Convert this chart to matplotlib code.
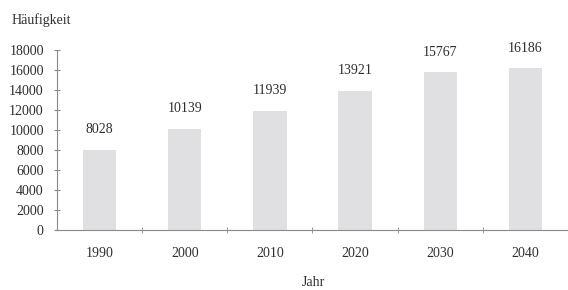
import matplotlib
matplotlib.use("Agg")
import matplotlib.pyplot as plt
import numpy as np

years = ["1990", "2000", "2010", "2020", "2030", "2040"]
values = [8028, 10139, 11939, 13921, 15767, 16186]
yticks = [0, 2000, 4000, 6000, 8000, 10000, 12000, 14000, 16000, 18000]

plt.rcParams['font.family'] = ['Liberation Serif', 'DejaVu Serif']
txt = '#2e2e2e'
spine = '#8a8a8a'
fs = 10

fig = plt.figure(figsize=(5.68, 2.9), dpi=100)
ax = fig.add_axes([57/568, 1 - 230/290, 511/568, 180/290])

x = np.arange(len(years))
ax.bar(x, values, width=0.39, color='#e0e0e3', edgecolor='none')
for xi, v in zip(x, values):
    ax.text(xi, v + 2000, str(v), ha='center', va='center', fontsize=fs, color=txt)

ax.set_xlim(-0.5, len(years) - 0.5)
ax.set_ylim(0, 18000)
ax.set_yticks(yticks)
ax.set_yticklabels([str(t) for t in yticks], fontsize=fs, color=txt)
ax.set_xticks(x)
ax.set_xticklabels(years, fontsize=fs, color=txt)
ax.tick_params(axis='x', length=0, pad=12)
ax.set_xticks(np.arange(len(years)) + 0.5, minor=True)
ax.tick_params(axis='x', which='minor', length=5, direction='inout', color=spine)
ax.tick_params(axis='y', length=5, direction='inout', color=spine, pad=7)

for s in ['top', 'right']:
    ax.spines[s].set_visible(False)
for s in ['left', 'bottom']:
    ax.spines[s].set_color(spine)
    ax.spines[s].set_linewidth(0.8)

fig.text(12/568, 1 - 20/290, 'Häufigkeit', fontsize=fs, color=txt, ha='left', va='center')
fig.text(313/568, 1 - 283/290, 'Jahr', fontsize=fs, color=txt, ha='center', va='center')

fig.savefig('out.png', dpi=100, facecolor='white')
